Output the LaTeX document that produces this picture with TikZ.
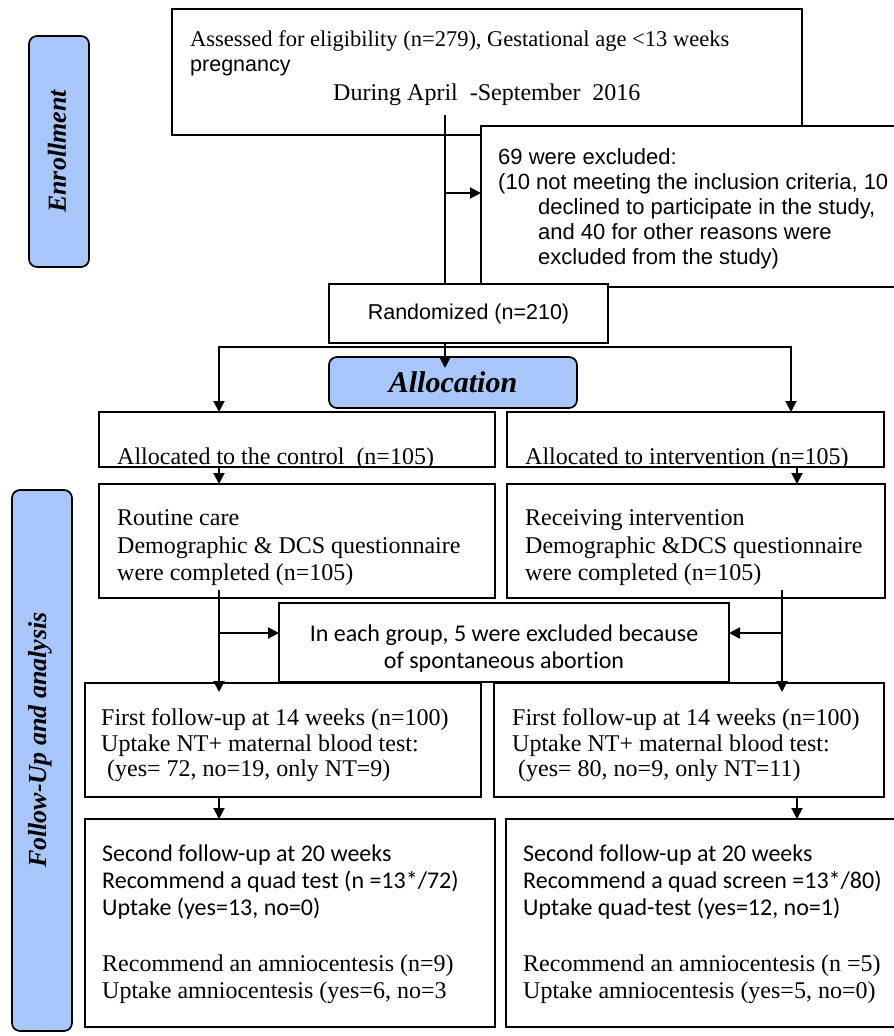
\documentclass[tikz,border=0pt]{standalone}
\usepackage{fontspec}
\setmainfont{Liberation Serif}
\newfontfamily\fArial{Liberation Sans}
\newfontfamily\fCal[Ligatures=NoCommon]{Carlito}
\usetikzlibrary{arrows.meta}
\definecolor{phaseblue}{RGB}{168,198,250}
\begin{document}
\begin{tikzpicture}[x=1pt,y=-1pt,
  box/.style={draw, line width=1.7pt, fill=white, inner sep=0pt, outer sep=0pt},
  phase/.style={draw, line width=1.7pt, fill=phaseblue, rounded corners=8pt, inner sep=0pt, outer sep=0pt},
  conn/.style={line width=2pt},
  arr/.style={conn, -{Triangle[length=11pt,width=11pt]}},
  tt/.style={inner sep=0pt, anchor=base west, font=\fontsize{24}{28}\selectfont},
  ta/.style={inner sep=0pt, anchor=base west, font={\fArial\fontsize{22}{26}\selectfont}},
  tc/.style={inner sep=0pt, anchor=base west, font={\fCal\fontsize{24}{28}\selectfont}},
  ptext/.style={inner sep=0pt, rotate=90, font={\bfseries\itshape\fontsize{26}{30}\selectfont}}]
\useasboundingbox (0,0) rectangle (894,1036);
\clip (0,0) rectangle (894,1036);

% phase labels
\node[phase, minimum width=60pt, minimum height=231pt] (enr) at (59,151.5) {};
\node[ptext] (enrT) at (57,151.5) {Enrollment};
\node[phase, minimum width=60pt, minimum height=541pt] (fu) at (42,760.5) {};
\node[ptext] (fuT) at (40,740) {Follow-Up and analysis};

% enrollment
\node[box, minimum width=630pt, minimum height=126pt] (top) at (487,72) {};
\node[tt, font=\fontsize{22.5}{26}\selectfont] (top1) at (190,46) {Assessed for eligibility (n=279), Gestational age <13 weeks};
\node[ta, font={\fArial\fontsize{21.5}{26}\selectfont}] (top2) at (190,71) {pregnancy};
\node[tt] (top3) at (333,100) {During April~ -September~ 2016};

\node[box, minimum width=429pt, minimum height=161pt] (excl) at (695.5,206.5) {};
\node[ta] (ex1) at (498,164) {69 were excluded:};
\node[ta] (ex2) at (498,189) {(10 not meeting the inclusion criteria, 10};
\node[ta] (ex3) at (538,214) {declined to participate in the study,};
\node[ta] (ex4) at (538,239) {and 40 for other reasons were};
\node[ta] (ex5) at (538,264) {excluded from the study)};

\node[box, minimum width=279pt, minimum height=59pt, font={\fArial\fontsize{21.5}{26}\selectfont}] (rand) at (468.5,313.5) {Randomized (n=210)};

% allocation
\node[phase, minimum width=248pt, minimum height=51pt, font={\bfseries\itshape\fontsize{30}{34}\selectfont}] (alloc) at (453,382.5) {Allocation};

\node[box, minimum width=396pt, minimum height=55pt] (alc) at (297,439.5) {};
\begin{scope}
\clip (alc.north west) rectangle (alc.south east);
\node[tt] (alcT) at (117,464) {Allocated to the control~ (n=105)};
\end{scope}
\node[box, minimum width=377pt, minimum height=55pt] (ali) at (695.5,439.5) {};
\begin{scope}
\clip (ali.north west) rectangle (ali.south east);
\node[tt] (aliT) at (525,464) {Allocated to intervention (n=105)};
\end{scope}

\node[box, minimum width=396pt, minimum height=114pt] (rc) at (297,541) {};
\node[tt] (rc1) at (117,525) {Routine care};
\node[tt] (rc2) at (117,553) {Demographic \& DCS questionnaire};
\node[tt] (rc3) at (117,580) {were completed (n=105)};
\node[box, minimum width=378pt, minimum height=114pt] (ri) at (696,541) {};
\node[tt] (ri1) at (525,525) {Receiving intervention};
\node[tt] (ri2) at (525,553) {Demographic \&DCS questionnaire};
\node[tt] (ri3) at (525,580) {were completed (n=105)};

\node[box, minimum width=450pt, minimum height=79pt] (spon) at (504,642.5) {};
\node[tc, anchor=base] (sp1) at (504,641) {In each group, 5 were excluded because};
\node[tc, anchor=base] (sp2) at (504,668) {of spontaneous abortion};

% follow-up
\node[box, minimum width=396pt, minimum height=114pt] (f1c) at (283,740) {};
\node[tt] (f1c1) at (101,725) {First follow-up at 14 weeks (n=100)};
\node[tt] (f1c2) at (101,751) {Uptake NT+ maternal blood test:};
\node[tt] (f1c3) at (107,776) {(yes= 72, no=19, only NT=9)};
\node[box, minimum width=390pt, minimum height=114pt] (f1i) at (689,740) {};
\node[tt] (f1i1) at (512,725) {First follow-up at 14 weeks (n=100)};
\node[tt] (f1i2) at (512,751) {Uptake NT+ maternal blood test:};
\node[tt] (f1i3) at (518,776) {(yes= 80, no=9, only NT=11)};

\node[box, minimum width=410pt, minimum height=208pt] (f2c) at (290,923) {};
\node[tc] (f2c1) at (102,861) {Second follow-up at 20 weeks};
\node[tc] (f2c2) at (102,888) {Recommend a quad test (n =13*/72)};
\node[tc] (f2c3) at (102,915) {Uptake (yes=13, no=0)};
\node[tt] (f2c4) at (102,971) {Recommend an amniocentesis (n=9)};
\node[tt] (f2c5) at (102,998) {Uptake amniocentesis (yes=6, no=3};
\node[box, minimum width=404pt, minimum height=208pt] (f2i) at (708,923) {};
\node[tc] (f2i1) at (523,861) {Second follow-up at 20 weeks};
\node[tc] (f2i2) at (523,888) {Recommend a quad screen =13*/80)};
\node[tc] (f2i3) at (523,915) {Uptake quad-test (yes=12, no=1)};
\node[tt] (f2i4) at (523,971) {Recommend an amniocentesis (n =5)};
\node[tt] (f2i5) at (523,998) {Uptake amniocentesis (yes=5, no=0)};

% connectors
\coordinate (v0) at (445,115);
\draw[conn] (v0) -- (v0 |- rand.north);
\coordinate (ex) at (445,193);
\draw[arr] (ex) -- (ex -| excl.west);
\coordinate (ra) at (445,368);
\draw[arr] (ra |- rand.south) -- (ra);
\coordinate (hm) at (445,347);
\coordinate (hl) at (219,347);
\coordinate (hr) at (791,347);
\draw[arr] (hm) -- (hl) -- (hl |- alc.north);
\draw[arr] (hm) -- (hr) -- (hr |- ali.north);
\coordinate (ar) at (797,0);
\draw[arr] (alc.south -| hl) -- (rc.north -| hl);
\draw[arr] (ali.south -| ar) -- (ri.north -| ar);
\coordinate (lv) at (219,590);
\coordinate (lve) at (219,692);
\draw[arr] (lv) -- (lve);
\coordinate (lh) at (219,633);
\draw[arr] (lh) -- (lh -| spon.west);
\coordinate (rv) at (782,590);
\coordinate (rve) at (782,692);
\draw[arr] (rv) -- (rve);
\coordinate (rh) at (782,633);
\draw[arr] (rh) -- (rh -| spon.east);
\draw[arr] (f1c.south -| hl) -- (f2c.north -| hl);
\draw[arr] (f1i.south -| ar) -- (f2i.north -| ar);
\end{tikzpicture}
\end{document}
